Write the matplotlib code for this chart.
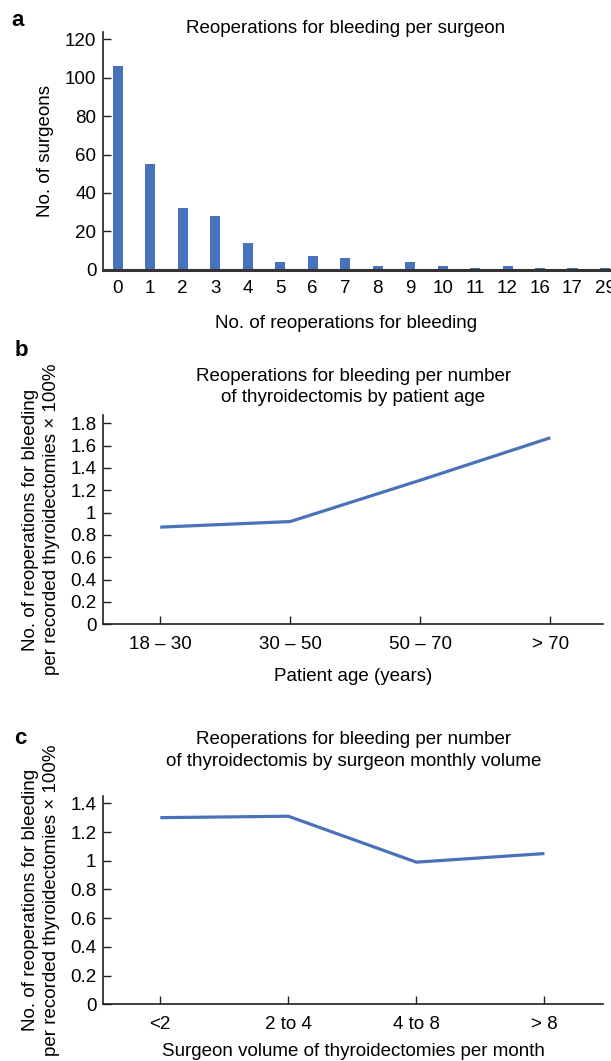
import matplotlib
matplotlib.use("Agg")
import matplotlib.pyplot as plt

plt.rcParams['font.family'] = ['Liberation Sans', 'DejaVu Sans']

# ---- data ----
reop_labels = ["0", "1", "2", "3", "4", "5", "6", "7", "8", "9", "10", "11", "12", "16", "17", "29"]
surgeons = [106, 55, 32, 28, 14, 4, 7, 6, 2, 4, 2, 1, 2, 1, 1, 1]

age_labels = ["18 \u2013 30", "30 \u2013 50", "50 \u2013 70", "> 70"]
age_rates = [0.87, 0.92, 1.29, 1.67]

vol_labels = ["<2", "2 to 4", "4 to 8", "> 8"]
vol_rates = [1.30, 1.31, 0.99, 1.05]

W, H = 611, 1061
DPI = 100
BLUE = "#4a72b8"
DARK = "#231f20"
FS = 13.5

fig = plt.figure(figsize=(W / DPI, H / DPI), dpi=DPI)


def box(left, top, right, bottom):
    return [left / W, 1 - bottom / H, (right - left) / W, (bottom - top) / H]


def style(ax):
    for s in ["top", "right"]:
        ax.spines[s].set_visible(False)
    for s in ["left", "bottom"]:
        ax.spines[s].set_color(DARK)
        ax.spines[s].set_linewidth(1.2)
    ax.tick_params(axis="y", direction="in", length=5.5, width=1, colors=DARK,
                   labelsize=FS, pad=5, labelcolor="black")
    ax.tick_params(axis="x", direction="in", length=5.5, width=1, colors=DARK,
                   labelsize=FS, pad=8.5, labelcolor="black")


# ---- panel a ----
axa = fig.add_axes(box(103.3, 31.7, 613.1, 269.7))
xa = list(range(len(reop_labels)))
axa.bar(xa, surgeons, width=0.31, color=BLUE)
axa.set_xlim(-0.446, 15.25)
axa.set_ylim(0, 124)
axa.set_yticks([0, 20, 40, 60, 80, 100, 120])
axa.set_xticks(xa)
axa.set_xticklabels(reop_labels)
style(axa)
axa.spines["bottom"].set_linewidth(2.2)
axa.spines["bottom"].set_color("#333333")
axa.tick_params(axis="x", length=0, pad=7.5)
fig.text(346 / W, 1 - 28.3 / H, "Reoperations for bleeding per surgeon",
         ha="center", va="center", fontsize=FS)
fig.text(346 / W, 1 - 323 / H, "No. of reoperations for bleeding",
         ha="center", va="center", fontsize=FS)
fig.text(45 / W, 1 - 151 / H, "No. of surgeons", rotation=90,
         ha="center", va="center", fontsize=FS)

ylab = "No. of reoperations for bleeding\nper recorded thyroidectomies \u00d7 100%"

# ---- panel b ----
axb = fig.add_axes(box(103.3, 415, 603.3, 624.3))
xb = list(range(len(age_labels)))
axb.plot(xb, age_rates, color=BLUE, linewidth=2.3, solid_capstyle="butt")
axb.set_xlim(-0.438, 3.408)
axb.set_ylim(0, 1.874)
axb.set_yticks([0, 0.2, 0.4, 0.6, 0.8, 1.0, 1.2, 1.4, 1.6, 1.8])
axb.set_yticklabels(["0", "0.2", "0.4", "0.6", "0.8", "1", "1.2", "1.4", "1.6", "1.8"])
axb.set_xticks(xb)
axb.set_xticklabels(age_labels)
style(axb)
fig.text(353.3 / W, 1 - 387 / H,
         "Reoperations for bleeding per number\nof thyroidectomis by patient age",
         ha="center", va="center", fontsize=FS, linespacing=1.38)
fig.text(353.3 / W, 1 - 676.5 / H, "Patient age (years)",
         ha="center", va="center", fontsize=FS)
fig.text(41 / W, 1 - 519.5 / H, ylab, rotation=90,
         ha="center", va="center", fontsize=FS, linespacing=1.3, multialignment="center")

# ---- panel c ----
axc = fig.add_axes(box(103.3, 795.7, 603.3, 1004.3))
xc = list(range(len(vol_labels)))
axc.plot(xc, vol_rates, color=BLUE, linewidth=2.3, solid_capstyle="butt")
axc.set_xlim(-0.445, 3.46)
axc.set_ylim(0, 1.453)
axc.set_yticks([0, 0.2, 0.4, 0.6, 0.8, 1.0, 1.2, 1.4])
axc.set_yticklabels(["0", "0.2", "0.4", "0.6", "0.8", "1", "1.2", "1.4"])
axc.set_xticks(xc)
axc.set_xticklabels(vol_labels)
style(axc)
fig.text(353.3 / W, 1 - 750.5 / H,
         "Reoperations for bleeding per number\nof thyroidectomis by surgeon monthly volume",
         ha="center", va="center", fontsize=FS, linespacing=1.38)
fig.text(353.3 / W, 1 - 1052 / H, "Surgeon volume of thyroidectomies per month",
         ha="center", va="center", fontsize=FS)
fig.text(41 / W, 1 - 900 / H, ylab, rotation=90,
         ha="center", va="center", fontsize=FS, linespacing=1.3, multialignment="center")

# ---- panel letters ----
for letter, (px, py) in zip(["a", "b", "c"], [(18, 21), (21, 350), (20, 738)]):
    fig.text(px / W, 1 - py / H, letter, fontsize=16, fontweight="bold",
             ha="center", va="center")

fig.savefig("out.png", dpi=DPI)
